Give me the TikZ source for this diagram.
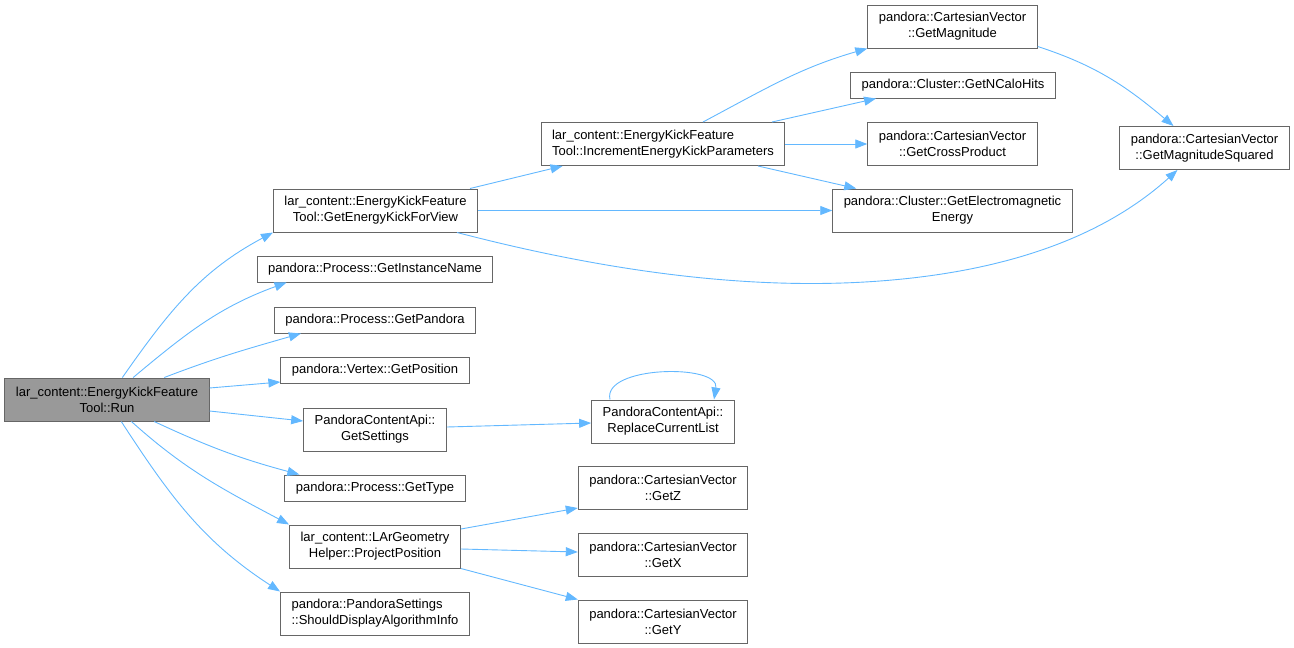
\documentclass[tikz,border=0pt]{standalone}
\usepackage{fontspec}
\setmainfont{Liberation Sans}
\usepackage{tikz}
\usetikzlibrary{arrows.meta}
\definecolor{edgeblue}{HTML}{63B8FF}
\definecolor{boxgray}{HTML}{666666}
\definecolor{curgray}{HTML}{999999}
\tikzset{fn/.style={draw=boxgray, line width=1pt, fill=white, inner xsep=11pt, inner ysep=0pt, minimum height=26pt, font=\fontsize{13}{16}\selectfont}}
\tikzset{two/.style={fn, align=center, minimum height=43pt}}
\tikzset{twol/.style={fn, align=left, minimum height=43pt}}
\tikzset{cur/.style={two, fill=curgray}}
\tikzset{call/.style={draw=edgeblue, line width=0.9pt, -{Triangle[length=12pt,width=9pt]}}}

\begin{document}
\begin{tikzpicture}[x=1pt,y=-1pt]
        \useasboundingbox (0,0) rectangle (1294,648);
        % third column
        \node[two] (CM) at (952.5,26.5) {pandora::CartesianVector\\::GetMagnitude};
        \node[fn] (NH) at (953,85) {pandora::Cluster::GetNCaloHits};
        \node[two] (CP) at (952.5,144) {pandora::CartesianVector\\::GetCrossProduct};
        \node[two] (EE) at (952.5,210.5) {pandora::Cluster::GetElectromagnetic\\Energy};
        \node[two] (MS) at (1204.5,148) {pandora::CartesianVector\\::GetMagnitudeSquared};
        % second column
        \node[twol] (IK) at (663,144) {lar\_content::EnergyKickFeature\\Tool::IncrementEnergyKickParameters};
        \node[two] (RL) at (663,421.5) {PandoraContentApi::\\ReplaceCurrentList};
        \node[two] (CZ) at (663,488) {pandora::CartesianVector\\::GetZ};
        \node[two] (CX) at (663,554.5) {pandora::CartesianVector\\::GetX};
        \node[two] (CY) at (663,621.5) {pandora::CartesianVector\\::GetY};
        % first column
        \node[two] (KV) at (375.5,210.5) {lar\_content::EnergyKickFeature\\Tool::GetEnergyKickForView};
        \node[fn] (IN) at (375,269) {pandora::Process::GetInstanceName};
        \node[fn] (PD) at (375,320) {pandora::Process::GetPandora};
        \node[fn] (VP) at (375,370.5) {pandora::Vertex::GetPosition};
        \node[two] (GS) at (375,429.5) {PandoraContentApi::\\GetSettings};
        \node[fn] (GT) at (375,488) {pandora::Process::GetType};
        \node[two] (PP) at (375,546.5) {lar\_content::LArGeometry\\Helper::ProjectPosition};
        \node[twol] (PS) at (375,613.5) {pandora::PandoraSettings\\::ShouldDisplayAlgorithmInfo};
        \node[cur] (R) at (107,399.5) {lar\_content::EnergyKickFeature\\Tool::Run};

        \path (R) edge [call, out=55, in=208] (KV.south west)
          edge [call, out=40, in=200] ([xshift=30pt]IN.south west)
          edge [call, out=21, in=196] ([xshift=27pt]PD.south west)
          edge [call, out=-25, in=165] ([xshift=15pt]GT.north west)
          edge [call, out=-42, in=152] (PP.north west)
          edge [call, out=-57, in=147] (PS.north west);
        \draw[call] ([yshift=11.5pt]R.east) -- ([yshift=-11.5pt]VP.west);
        \draw[call] ([yshift=-11.5pt]R.east) -- ([yshift=8.5pt]GS.west);

        \draw[call] ([xshift=-8pt]KV.north east) -- ([xshift=22pt]IK.south west);
        \draw[call] (KV.east) -- (EE.west);
        \draw[call] ([xshift=-21pt]KV.south east) .. controls (620,275) and (760,290) .. (880,281)
          .. controls (1000,272) and (1100,240) .. ([xshift=-27pt]MS.south);

        \path ([xshift=40pt]IK.north) edge [call, out=28, in=196] (CM.south west);
        \draw[call] ([xshift=109pt]IK.north) -- ([xshift=26pt]NH.south west);
        \draw[call] (IK.east) -- (CP.west);
        \draw[call] ([xshift=95pt]IK.south) -- ([xshift=24pt]EE.north west);
        \path ([yshift=2pt]CM.south east) edge [call, out=-18, in=140] ([xshift=-31pt]MS.north);

        \draw[call] ([yshift=2.5pt]GS.east) -- ([yshift=-1.5pt]RL.west);
        \draw[call] ([xshift=-53pt]RL.north) .. controls +(-8,-34) and +(6,-36) .. ([xshift=51pt]RL.north);

        \draw[call] ([yshift=17.5pt]PP.east) -- ([yshift=2pt]CZ.south west);
        \draw[call] ([yshift=-2.5pt]PP.east) -- ([yshift=2.5pt]CX.west);
        \draw[call] (PP.south east) -- (CY.north west);
      \end{tikzpicture}
\end{document}
